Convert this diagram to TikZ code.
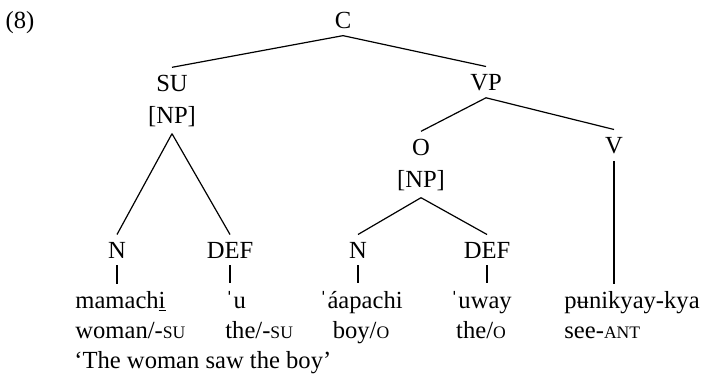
\documentclass[tikz,border=0pt]{standalone}
\usepackage{fontspec}
\setmainfont{Liberation Serif}
\newcommand\smc[1]{{\fontsize{8.8pt}{10pt}\selectfont #1}}
\newcommand\strs{\textbf{ˈ}}

\begin{document}
\begin{tikzpicture}[x=.5pt,y=-.5pt,font=\fontsize{12.3pt}{15pt}\selectfont,
  lab/.style={anchor=base,inner sep=3.5pt},
  word/.style={anchor=base west,inner sep=3.5pt,align=left},
  cword/.style={anchor=base,inner sep=3.5pt,align=center},
  br/.style={line width=.6pt}]
\useasboundingbox (0,0) rectangle (705,375);
\node[anchor=base] (ex) at (20,28) {(8)};
% the tree (base of a two-line node is its last line)
\node[lab] (c) at (343,28) {C};
\node[lab,align=center] (su) at (172,123) {SU\\[1pt]{[NP]}};
\node[lab] (vp) at (486,90) {VP};
\node[lab,align=center] (o) at (421,187) {O\\[1pt]{[NP]}};
\node[lab] (v) at (614,153) {V};
\node[lab] (n1) at (117,258) {N};
\node[lab] (d1) at (230,258) {DEF};
\node[lab] (n2) at (358,258) {N};
\node[lab] (d2) at (487,258) {DEF};
% words and glosses
\node[word] (w1) at (68,338) {mamach\underline{i}\\woman/-\smc{SU}};
\node[word] (w2) at (218,338) {\strs u\\the/-\smc{SU}};
\node[cword] (w3) at (361,338) {\strs áapachi\\boy/\smc{O}};
\node[cword] (w4) at (481,338) {\strs uway\\the/\smc{O}};
\node[word] (w5) at (557,338) {pʉnikyay-kya\\see-\smc{ANT}};
\node[word] (tr) at (67,368) {‘The woman saw the boy’};
\draw[br] (c.south) -- (su.north);
\draw[br] (c.south) -- (vp.north);
\draw[br] (su.south) -- (n1.north);
\draw[br] (su.south) -- (d1.north);
\draw[br] (vp.south) -- (o.north);
\draw[br] (vp.south) -- (v.north);
\draw[br] (o.south) -- (n2.north);
\draw[br] (o.south) -- (d2.north);
\draw[br] (n1.south) -- (n1.south |- w1.north);
\draw[br] (d1.south) -- (d1.south |- w2.north);
\draw[br] (n2.south) -- (n2.south |- w3.north);
\draw[br] (d2.south) -- (d2.south |- w4.north);
\draw[br] (v.south) -- (v.south |- w5.north);
\end{tikzpicture}
\end{document}
